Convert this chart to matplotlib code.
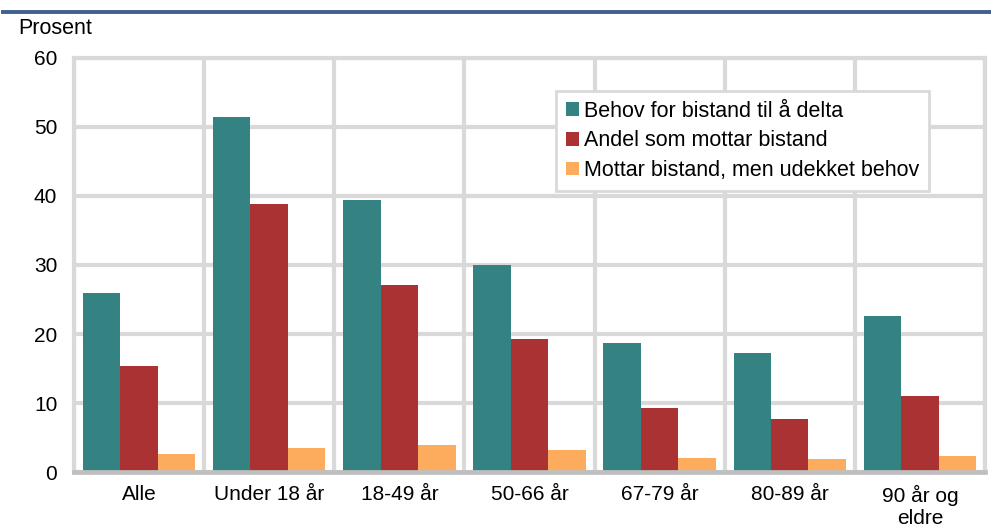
import numpy as np
import matplotlib
matplotlib.use("Agg")
import matplotlib.pyplot as plt
from matplotlib.lines import Line2D

plt.rcParams["font.family"] = ["Liberation Sans", "DejaVu Sans"]

categories = ["Alle", "Under 18 år", "18-49 år", "50-66 år", "67-79 år", "80-89 år", "90 år og\neldre"]
behov = [25.9, 51.4, 39.4, 30.0, 18.7, 17.2, 22.6]
mottar = [15.4, 38.8, 27.1, 19.3, 9.3, 7.7, 11.0]
udekket = [2.6, 3.5, 3.9, 3.2, 2.0, 1.9, 2.3]
series = [
    ("Behov for bistand til å delta", behov, "#348282"),
    ("Andel som mottar bistand", mottar, "#ab3233"),
    ("Mottar bistand, men udekket behov", udekket, "#fdab5c"),
]

grid_col = "#d9d9d9"
fig = plt.figure(figsize=(9.91, 5.30), dpi=100)
ax = fig.add_axes([0.0747, 0.1094, 0.9192, 0.7812])

x = np.arange(len(categories))
w = 0.288
for i, (lab, vals, col) in enumerate(series):
    ax.bar(x + (i - 1) * w, vals, w, color=col, label=lab, zorder=3, linewidth=0)

ax.set_xlim(-0.5, len(categories) - 0.5)
ax.set_ylim(0, 60)
ax.set_yticks(range(0, 61, 10))
ax.set_xticks(x)
ax.set_xticklabels(categories, fontsize=15, linespacing=1.2)
ax.set_xticks(np.arange(-0.5, len(categories)), minor=True)
ax.tick_params(axis="both", which="both", length=0)
ax.tick_params(axis="y", labelsize=15, pad=12)
ax.tick_params(axis="x", pad=9)

ax.yaxis.grid(True, color=grid_col, linewidth=3, zorder=0)
ax.xaxis.grid(True, which="minor", color=grid_col, linewidth=3, zorder=0)
ax.xaxis.grid(False, which="major")
for side in ("left", "top", "right"):
    ax.spines[side].set_color(grid_col)
    ax.spines[side].set_linewidth(3)
ax.spines["bottom"].set_color("#bfbfbf")
ax.spines["bottom"].set_linewidth(3.4)
ax.spines["bottom"].set_zorder(4)

leg = ax.legend(loc="upper left", bbox_to_anchor=(0.529, 0.92), fontsize=15.5,
                frameon=True, fancybox=False, framealpha=1, handlelength=0.6,
                handleheight=0.6, handletextpad=0.25, labelspacing=0.4,
                borderpad=0.45, borderaxespad=0)
leg.get_frame().set_edgecolor(grid_col)
leg.get_frame().set_linewidth(2)

fig.text(0.018, 0.947, "Prosent", fontsize=15.5, va="center", ha="left")
# rule under the heading band
fig.add_artist(Line2D([0.003, 1.0], [0.977, 0.977], color="#41608f", linewidth=2.8,
                      transform=fig.transFigure))

fig.savefig("out.png", dpi=100)
